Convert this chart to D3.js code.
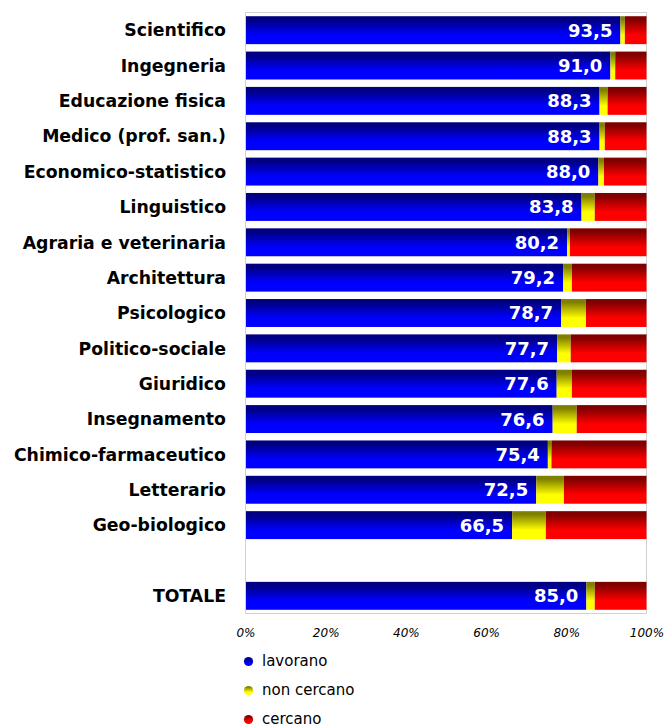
<!DOCTYPE html>
<html>
<head>
<meta charset="utf-8">
<script src="https://cdn.jsdelivr.net/npm/d3@7"></script>
<style>
  html, body { margin: 0; padding: 0; background: #fff; }
  svg { display: block; }
</style>
</head>
<body>
<svg id="chart" width="665" height="727"></svg>
<script>
// ---- data ----
const categories = [
  "Scientifico", "Ingegneria", "Educazione fisica", "Medico (prof. san.)",
  "Economico-statistico", "Linguistico", "Agraria e veterinaria", "Architettura",
  "Psicologico", "Politico-sociale", "Giuridico", "Insegnamento",
  "Chimico-farmaceutico", "Letterario", "Geo-biologico", "TOTALE"
];
const lavorano   = [93.5, 91.0, 88.3, 88.3, 88.0, 83.8, 80.2, 79.2, 78.7, 77.7, 77.6, 76.6, 75.4, 72.5, 66.5, 85.0];
const nonCercano = [ 1.1,  1.2,  2.0,  1.3,  1.4,  3.3,  0.7,  2.2,  6.2,  3.4,  3.8,  6.0,  0.9,  6.9,  8.4,  2.1];
const cercano    = [ 5.4,  7.8,  9.7, 10.4, 10.6, 12.9, 19.1, 18.6, 15.1, 18.9, 18.6, 17.4, 23.7, 20.6, 25.1, 12.9];
const seriesNames = ["lavorano", "non cercano", "cercano"];
const xTicks = [0, 20, 40, 60, 80, 100];
const gapKey = "__gap__";

// ---- layout ----
const svg = d3.select("#chart");
const plot = { left: 245.5, right: 646.5, top: 12.5, bottom: 613.5 };

const domain = categories.slice(0, 15).concat([gapKey], categories.slice(15));
const y = d3.scaleBand().domain(domain)
  .range([plot.top, plot.bottom]).paddingInner(0.21).paddingOuter(0.105);
const x = d3.scaleLinear().domain([0, 100]).range([plot.left, plot.right]);

const palette = [
  { id: "gBlue",   dark: "#000080", bright: "#0000ff" },
  { id: "gYellow", dark: "#808000", bright: "#ffff00" },
  { id: "gRed",    dark: "#800000", bright: "#ff0000" }
];
const defs = svg.append("defs");
palette.forEach(p => {
  const g = defs.append("linearGradient").attr("id", p.id)
    .attr("x1", 0).attr("y1", 0).attr("x2", 0).attr("y2", 1);
  g.append("stop").attr("offset", "0%").attr("stop-color", p.dark);
  g.append("stop").attr("offset", "12%").attr("stop-color", p.dark);
  g.append("stop").attr("offset", "68%").attr("stop-color", p.bright);
  g.append("stop").attr("offset", "100%").attr("stop-color", p.bright);
});

// plot border
svg.append("rect")
  .attr("x", plot.left).attr("y", plot.top)
  .attr("width", plot.right - plot.left).attr("height", plot.bottom - plot.top)
  .attr("fill", "none").attr("stroke", "#d2d2d2").attr("stroke-width", 1);

// stacked data
const rows = categories.map((c, i) => ({ cat: c, vals: [lavorano[i], nonCercano[i], cercano[i]] }));
const segs = [];
rows.forEach(r => {
  let acc = 0;
  r.vals.forEach((v, k) => { segs.push({ cat: r.cat, k, x0: acc, x1: acc + v }); acc += v; });
});

svg.append("g").selectAll("rect").data(segs).join("rect")
  .attr("x", d => x(d.x0) + (d.x0 === 0 ? 0.5 : 0))
  .attr("y", d => y(d.cat))
  .attr("width", d => Math.max(0, x(Math.min(d.x1, 100)) - x(d.x0) - (d.x0 === 0 ? 0.5 : 0)))
  .attr("height", y.bandwidth())
  .attr("fill", d => `url(#${palette[d.k].id})`);

// value labels
const fmt = v => d3.format(".1f")(v).replace(".", ",");
svg.append("g").selectAll("text").data(rows).join("text")
  .attr("x", d => x(d.vals[0]) - 8)
  .attr("y", d => y(d.cat) + y.bandwidth() / 2)
  .attr("dy", "0.36em")
  .attr("text-anchor", "end")
  .attr("fill", "#fff")
  .attr("font-family", "DejaVu Sans, sans-serif")
  .attr("font-weight", "bold")
  .attr("font-size", 18)
  .text(d => fmt(d.vals[0]));

// category labels
svg.append("g").selectAll("text").data(categories).join("text")
  .attr("x", 226)
  .attr("y", d => y(d) + y.bandwidth() / 2)
  .attr("dy", "0.36em")
  .attr("text-anchor", "end")
  .attr("fill", "#000")
  .attr("font-family", "DejaVu Sans, sans-serif")
  .attr("font-weight", "bold")
  .attr("font-size", 17.3)
  .text(d => d);

// x axis labels
const xAxis = d3.axisBottom(x).tickValues(xTicks).tickSize(0).tickFormat(d => d + "%");
const gx = svg.append("g").attr("transform", `translate(0, ${plot.bottom + 12})`).call(xAxis);
gx.select(".domain").remove();
gx.selectAll("text")
  .attr("font-family", "DejaVu Sans, sans-serif")
  .attr("font-style", "italic")
  .attr("font-size", 12)
  .attr("fill", "#000");

// legend
const legend = svg.append("g");
const ly = d3.scalePoint().domain(seriesNames).range([661.5, 719.5]);
seriesNames.forEach((s, k) => {
  legend.append("circle").attr("cx", 248.5).attr("cy", ly(s)).attr("r", 4.6)
    .attr("fill", `url(#${palette[k].id})`);
  legend.append("text").attr("x", 262).attr("y", ly(s)).attr("dy", "0.33em")
    .attr("font-family", "DejaVu Sans, sans-serif").attr("font-size", 15)
    .attr("fill", "#000").text(s);
});
</script>
</body>
</html>
